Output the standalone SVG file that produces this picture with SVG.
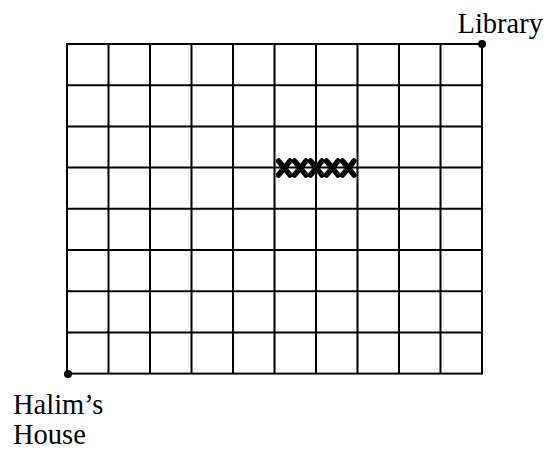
<svg xmlns="http://www.w3.org/2000/svg" width="547" height="449" viewBox="0 0 547 449">
<style>
.g{stroke:#000;stroke-width:2;fill:none}
.x{stroke:#000;stroke-width:5.5;stroke-linecap:round}
text{font-family:"Liberation Serif","Times New Roman",serif;font-size:28.5px;fill:#000}
</style>
<rect width="547" height="449" fill="#fff"/>
<g id="grid" class="g">
<rect x="67" y="44" width="415" height="329.6"/>
<path d="M108.5 44V373.6M150 44V373.6M191.5 44V373.6M233 44V373.6M274.5 44V373.6M316 44V373.6M357.5 44V373.6M399 44V373.6M440.5 44V373.6"/>
<path d="M67 85.2H482M67 126.4H482M67 167.6H482M67 208.8H482M67 250H482M67 291.2H482M67 332.4H482"/>
</g>
<g id="marks" class="x">
<path d="M278.5 161L290 175M290 161L278.5 175"/>
<path d="M294.5 161L306 175M306 161L294.5 175"/>
<path d="M310.5 161L322 175M322 161L310.5 175"/>
<path d="M326.5 161L338 175M338 161L326.5 175"/>
<path d="M342.5 161L354 175M354 161L342.5 175"/>
</g>
<g id="library">
<circle cx="482" cy="44" r="4"/>
<text x="543" y="33" text-anchor="end">Library</text>
</g>
<g id="house">
<circle cx="68" cy="374" r="4"/>
<text x="13" y="414">Halim’s</text>
<text x="13" y="444">House</text>
</g>
</svg>
